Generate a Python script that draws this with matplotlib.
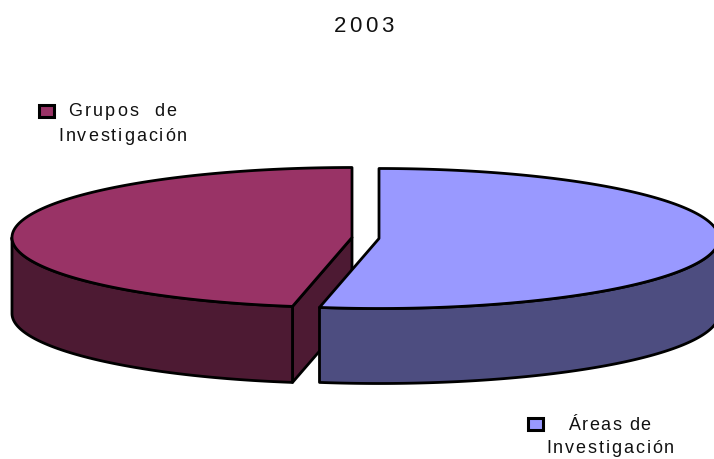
import numpy as np
import matplotlib
matplotlib.use("Agg")
import matplotlib.pyplot as plt
from matplotlib.patches import Polygon, Rectangle
from matplotlib.text import Text

# ---- data ----
title_text = "2003"
categories = ["Áreas de\nInvestigación", "Grupos  de\nInvestigación"]
shares = [52.8, 47.2]
top_colors = ["#9999FF", "#993366"]
side_colors = ["#4D4D80", "#4D1A33"]

# ---- drawing geometry (pixels) ----
W, H = 714, 460
slice_centers = [(379, 239.5), (352, 238.5)]
RX, RY_slices = 340, [70, 70]
DEPTHS = [75, 76]
LW = 2.0
FS = 18 * 72 / 100


class SpacedText(Text):
    """A single text artist drawn with extra letter spacing."""

    def __init__(self, *args, tracking=0.0, **kwargs):
        super().__init__(*args, **kwargs)
        self.tracking = tracking

    def draw(self, renderer):
        if not self.get_visible():
            return
        gc = renderer.new_gc()
        gc.set_foreground(self.get_color())
        gc.set_alpha(1.0)
        prop = self.get_fontproperties()
        x0, y0 = self.get_transform().transform(self.get_position())
        y0 = renderer.height - y0
        s = self.get_text()
        for i, ch in enumerate(s):
            w = renderer.get_text_width_height_descent(s[:i], prop, False)[0] if i else 0
            if ch != " ":
                renderer.draw_text(gc, x0 + w + i * self.tracking, y0, ch, prop, 0)
        gc.restore()


def spaced(ax, x, y, s, tracking, size=FS):
    t = SpacedText(x, y, s, tracking=tracking, fontsize=size, family="Liberation Sans",
                   color="#111111", transform=ax.transData)
    ax.add_artist(t)
    return t


def ell(cx, cy, ry, theta):
    return np.column_stack([cx + RX * np.sin(theta), cy - ry * np.cos(theta)])


fig = plt.figure(figsize=(W / 100, H / 100), dpi=100)
ax = fig.add_axes([0, 0, 1, 1])
ax.set_xlim(0, W)
ax.set_ylim(H, 0)
ax.axis("off")

fractions = np.array(shares) / sum(shares)
edges = np.concatenate([[0], np.cumsum(fractions)]) * 2 * np.pi

style = dict(edgecolor="black", linewidth=LW, joinstyle="round")

# draw back slice (second) first so that the first slice overlaps it
for i in [1, 0]:
    a0, a1 = edges[i], edges[i + 1]
    (cx, cy), ry, d = slice_centers[i], RY_slices[i], DEPTHS[i]
    th = np.linspace(a0, a1, 300)
    arc = ell(cx, cy, ry, th)
    apex = np.array([cx, cy])

    # cut face visible on the second slice (its start edge faces the viewer's right)
    if i == 1:
        start = ell(cx, cy, ry, np.array([a0]))[0]
        face = np.array([apex, start, start + [0, d], apex + [0, d]])
        ax.add_patch(Polygon(face, closed=True, facecolor=side_colors[i], **style))

    # outer wall: only the part of the rim at the front of the ellipse
    lo, hi = max(a0, np.pi / 2), min(a1, 3 * np.pi / 2)
    wall_th = np.linspace(lo, hi, 300)
    rim = ell(cx, cy, ry, wall_th)
    wall = np.vstack([rim, (rim + [0, d])[::-1]])
    ax.add_patch(Polygon(wall, closed=True, facecolor=side_colors[i], **style))

    # top face
    top = np.vstack([apex, arc])
    ax.add_patch(Polygon(top, closed=True, facecolor=top_colors[i], **style))

# title
spaced(ax, 334, 32, title_text, 3.2, size=16)

# legend entries
key_boxes = [(528, 419, 15, 12), (39, 106, 15, 12)]
line_pos = [[(568.5, 430, 1.4), (546, 453.5, 1.9)], [(68.5, 116.5, 2.1), (58.5, 141.5, 1.9)]]
for i, cat in enumerate(categories):
    x, y, w, h = key_boxes[i]
    ax.add_patch(Rectangle((x, y), w, h, facecolor=top_colors[i], edgecolor="black", linewidth=2.2))
    for line, (lx, ly, tr) in zip(cat.split("\n"), line_pos[i]):
        spaced(ax, lx, ly, line, tr)

fig.savefig("out.png", dpi=100, facecolor="white")
